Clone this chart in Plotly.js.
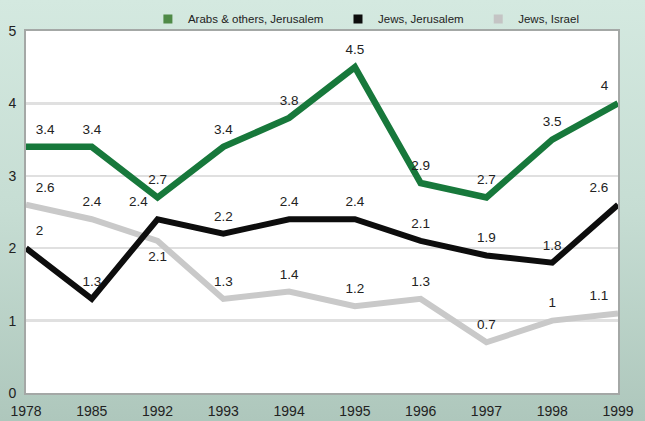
<!DOCTYPE html>
<html>
<head>
<meta charset="utf-8">
<script src="https://cdn.plot.ly/plotly-3.0.1.min.js"></script>
<style>
  html, body { margin: 0; padding: 0; }
  body { width: 645px; height: 421px; background: linear-gradient(180deg, #d4e9e0 0%, #c6ddd3 50%, #aec7bc 100%); }
  #chart { width: 645px; height: 421px; }
</style>
</head>
<body>
<div id="chart"></div>
<script>
var years = ['1978', '1985', '1992', '1993', '1994', '1995', '1996', '1997', '1998', '1999'];
var arabsJerusalem = [3.4, 3.4, 2.7, 3.4, 3.8, 4.5, 2.9, 2.7, 3.5, 4];
var jewsJerusalem = [2, 1.3, 2.4, 2.2, 2.4, 2.4, 2.1, 1.9, 1.8, 2.6];
var jewsIsrael = [2.6, 2.4, 2.1, 1.3, 1.4, 1.2, 1.3, 0.7, 1, 1.1];
var seriesNames = ['Arabs & others, Jerusalem', 'Jews, Jerusalem', 'Jews, Israel'];
var yTicks = [0, 1, 2, 3, 4, 5];

var colors = ['#17783b', '#0d0d0d', '#c9c9c9'];
var legendColors = ['#4f8a47', '#0d0d0d', '#c4c4c4'];

var posArabs = ['top right', 'top center', 'top center', 'top center', 'top center', 'top center', 'top center', 'top center', 'top center', 'top left'];
var posJJ = ['top right', 'top center', 'top left', 'top center', 'top center', 'top center', 'top center', 'top center', 'top center', 'top left'];
var posJI = ['top right', 'top center', 'bottom center', 'top center', 'top center', 'top center', 'top center', 'top center', 'top center', 'top left'];

function lineTrace(y, i, pos, w) {
  return {
    x: years, y: y, type: 'scatter', mode: 'lines+markers+text',
    line: { color: colors[i], width: w, shape: 'linear' },
    marker: { size: 14, color: 'rgba(0,0,0,0)' },
    text: y.map(function (v) { return String(v); }),
    textposition: pos,
    textfont: { family: 'Liberation Sans, Arial, sans-serif', size: 13.5, color: '#222' },
    cliponaxis: false, showlegend: false, hoverinfo: 'skip'
  };
}

function legendTrace(i) {
  var pad = i < seriesNames.length - 1 ? '\u00a0\u00a0\u00a0' : '';
  return {
    x: [null], y: [null], type: 'scatter', mode: 'markers', name: seriesNames[i] + pad,
    marker: { symbol: 'square', size: 9, color: legendColors[i] }, showlegend: true
  };
}

var data = [
  lineTrace(jewsIsrael, 2, posJI, 6),
  lineTrace(jewsJerusalem, 1, posJJ, 6),
  lineTrace(arabsJerusalem, 0, posArabs, 6.5),
  legendTrace(0), legendTrace(1), legendTrace(2)
];

var layout = {
  width: 645, height: 421,
  margin: { l: 26, r: 27, t: 31, b: 28, pad: 0, autoexpand: false },
  paper_bgcolor: 'rgba(0,0,0,0)',
  plot_bgcolor: '#ffffff',
  font: { family: 'Liberation Sans, Arial, sans-serif', size: 13, color: '#222' },
  showlegend: true,
  legend: {
    orientation: 'h', x: 0.575, xanchor: 'center', yref: 'container', y: 0.955, yanchor: 'middle',
    font: { size: 11.5, color: '#222' }, bgcolor: 'rgba(0,0,0,0)',
    itemwidth: 30, tracegroupgap: 0, traceorder: 'normal'
  },
  xaxis: {
    type: 'category', range: [0, 9], showgrid: false, zeroline: false,
    showline: true, linecolor: '#a4a8a6', linewidth: 2, mirror: true,
    ticks: '', ticklabelstandoff: 4, tickfont: { size: 14, color: '#222' }, automargin: false
  },
  yaxis: {
    range: [0, 5], tickvals: yTicks, ticktext: yTicks.map(String),
    showgrid: true, gridcolor: '#e0e0e0', gridwidth: 2.5, zeroline: false,
    showline: true, linecolor: '#a4a8a6', linewidth: 2, mirror: true,
    ticks: '', ticklabelstandoff: 5, tickfont: { size: 14, color: '#222' }, automargin: false
  }
};

Plotly.newPlot('chart', data, layout, { displayModeBar: false, staticPlot: true });
</script>
</body>
</html>
